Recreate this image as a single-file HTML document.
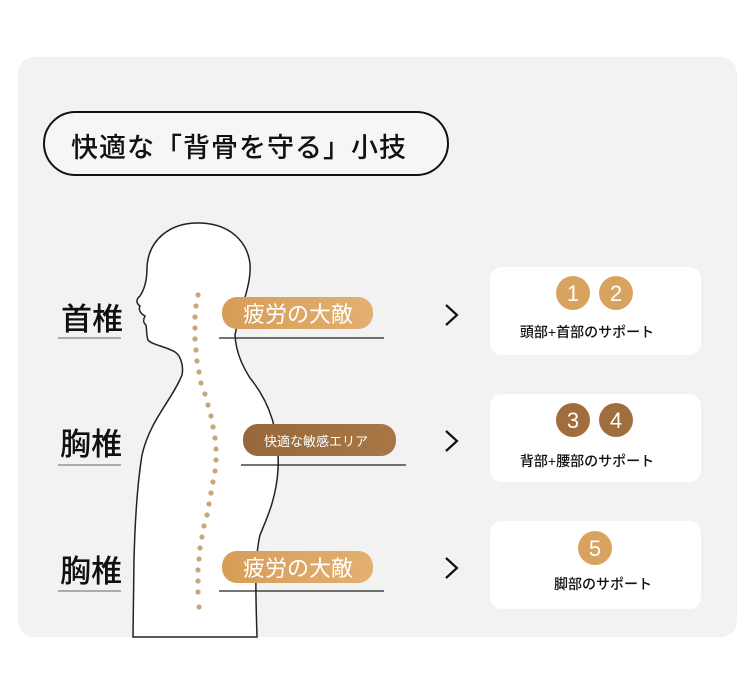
<!DOCTYPE html>
<html><head><meta charset="utf-8"><style>
body{margin:0;background:#fff;width:750px;height:684px;overflow:hidden}
svg{display:block}
text{font-family:"Liberation Sans","Noto Sans CJK JP",sans-serif}
</style></head><body>
<svg width="750" height="684" viewBox="0 0 750 684">
<defs>
<linearGradient id="g1" x1="0" x2="1"><stop offset="0" stop-color="#d69d58"/><stop offset="1" stop-color="#e2b070"/></linearGradient>
<linearGradient id="g2" x1="0" x2="1"><stop offset="0" stop-color="#98683a"/><stop offset="1" stop-color="#a87745"/></linearGradient>
</defs>
<rect x="18" y="57" width="719" height="580" rx="16" fill="#f2f2f2"/>
<rect x="44" y="112" width="404" height="63" rx="31.5" fill="#f6f6f6" stroke="#111" stroke-width="2"/>
<text x="71" y="157" font-size="27" font-weight="500" fill="#111" letter-spacing="1">快適な「背骨を守る」小技</text>

<path d="M133,637 L134,560 C135,520 138,480 142,455 C150,420 172,400 182,375 C184,365 180,355 175,352 C165,346 152,345 148,340 C146,334 147,330 146,325 C142,322 144,318 145,316 C141,314 138,310 140,306 C137,304 135,300 140,296 C144,290 147,282 147,268 C148,240 170,222 200,223 C235,224 252,248 250,272 C249,290 240,310 235,335 C236,355 245,370 250,378 C268,400 280,430 278,470 C276,500 266,520 260,535 C254,560 256,600 257,637 Z" fill="#fff" stroke="#222" stroke-width="1.5"/>
<g fill="#c9a779">
<circle cx="198" cy="295" r="2.6"/><circle cx="196" cy="306" r="2.6"/><circle cx="195" cy="317" r="2.6"/><circle cx="195" cy="328" r="2.6"/><circle cx="195" cy="339" r="2.6"/><circle cx="196" cy="350" r="2.6"/><circle cx="197" cy="361" r="2.6"/><circle cx="199" cy="372" r="2.6"/><circle cx="201" cy="383" r="2.6"/><circle cx="205" cy="394" r="2.6"/><circle cx="208" cy="405" r="2.6"/><circle cx="211" cy="416" r="2.6"/><circle cx="213" cy="427" r="2.6"/><circle cx="215" cy="438" r="2.6"/><circle cx="216" cy="449" r="2.6"/><circle cx="216" cy="460" r="2.6"/><circle cx="215" cy="471" r="2.6"/><circle cx="213" cy="482" r="2.6"/><circle cx="211" cy="493" r="2.6"/><circle cx="209" cy="504" r="2.6"/><circle cx="207" cy="515" r="2.6"/><circle cx="204" cy="526" r="2.6"/><circle cx="202" cy="537" r="2.6"/><circle cx="200" cy="548" r="2.6"/><circle cx="199" cy="559" r="2.6"/><circle cx="198" cy="570" r="2.6"/><circle cx="198" cy="581" r="2.6"/><circle cx="198" cy="592" r="2.6"/><circle cx="199" cy="607" r="2.6"/>
</g>

<g font-size="31" font-weight="500" fill="#111">
<text x="61" y="330">首椎</text><text x="60" y="455">胸椎</text><text x="60" y="582">胸椎</text>
</g>
<g stroke="#666" stroke-width="1"><line x1="58" y1="338" x2="121" y2="338"/><line x1="58" y1="465" x2="121" y2="465"/><line x1="58" y1="591" x2="121" y2="591"/></g>
<g stroke="#222" stroke-width="1.2"><line x1="219" y1="338" x2="384" y2="338"/><line x1="241" y1="465" x2="406" y2="465"/><line x1="219" y1="591" x2="384" y2="591"/></g>

<rect x="222" y="297" width="151" height="32" rx="15" fill="url(#g1)"/>
<text x="243" y="322" font-size="22" fill="#fff">疲労の大敵</text>
<rect x="243" y="424" width="153" height="32" rx="15" fill="url(#g2)"/>
<text x="264" y="446" font-size="13" fill="#fff">快適な敏感エリア</text>
<rect x="222" y="551" width="151" height="32" rx="15" fill="url(#g1)"/>
<text x="243" y="576" font-size="22" fill="#fff">疲労の大敵</text>

<g fill="none" stroke="#111" stroke-width="2.2"><path d="M446,305 L457,315 L446,325"/><path d="M446,431 L457,441 L446,451"/><path d="M446,558 L457,568 L446,578"/></g>

<g fill="#fff"><rect x="490" y="267" width="211" height="88" rx="12"/><rect x="490" y="394" width="211" height="88" rx="12"/><rect x="490" y="521" width="211" height="88" rx="12"/></g>
<g font-size="22" fill="#fff" text-anchor="middle">
<circle cx="573" cy="293" r="17" fill="#d8a35f"/><text x="573" y="301">1</text>
<circle cx="616" cy="293" r="17" fill="#d8a35f"/><text x="616" y="301">2</text>
<circle cx="573" cy="420" r="17" fill="#a06e3e"/><text x="573" y="428">3</text>
<circle cx="616" cy="420" r="17" fill="#a06e3e"/><text x="616" y="428">4</text>
<circle cx="595" cy="548" r="17" fill="#d8a35f"/><text x="595" y="556">5</text>
</g>
<g font-size="14" font-weight="500" fill="#111" text-anchor="middle">
<text x="587" y="337">頭部+首部のサポート</text>
<text x="587" y="466">背部+腰部のサポート</text>
<text x="603" y="589">脚部のサポート</text>
</g>
</svg>
</body></html>
